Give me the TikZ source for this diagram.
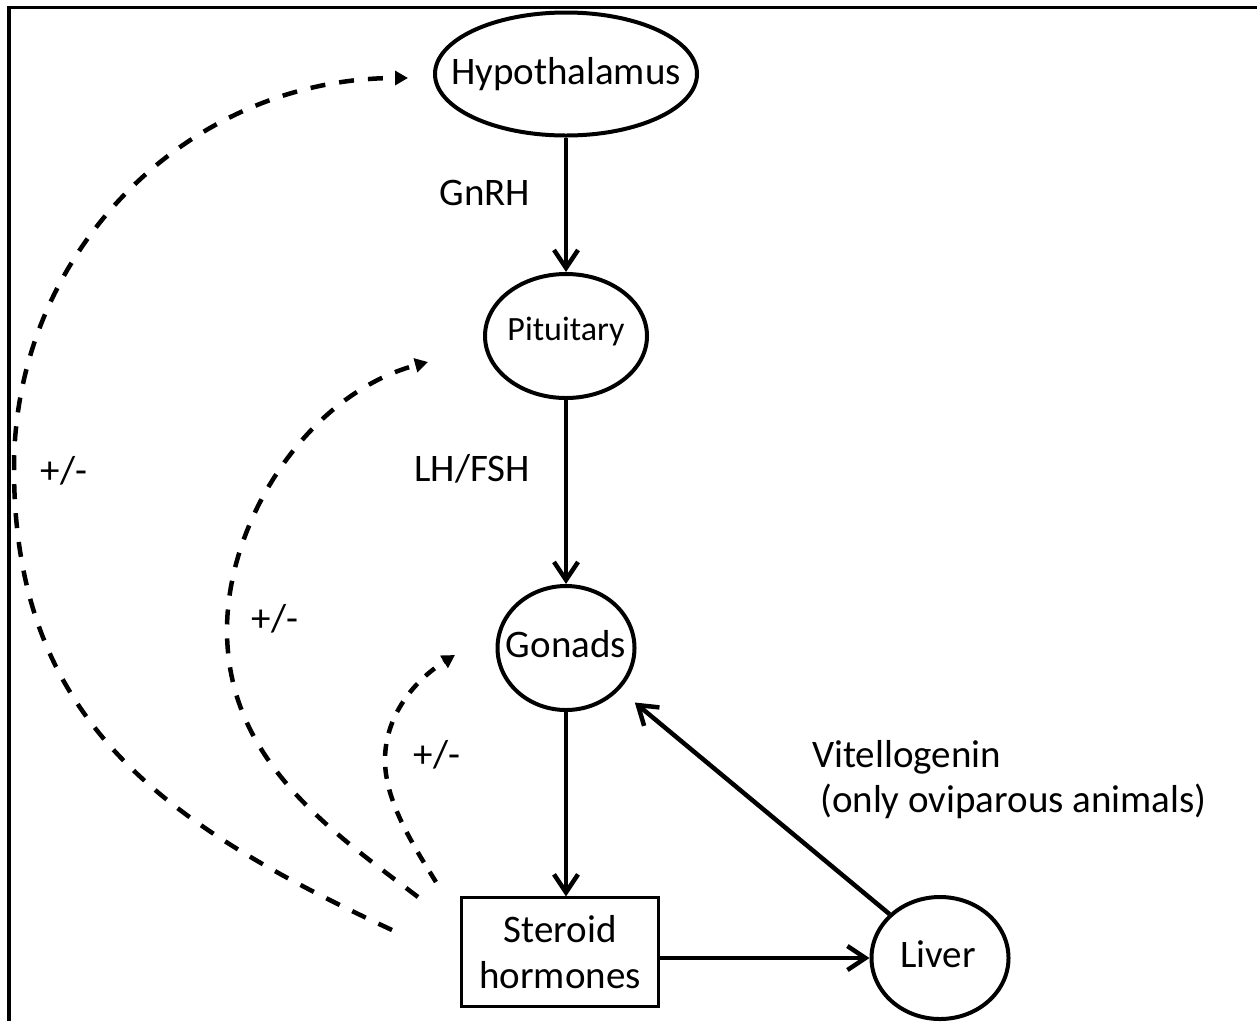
\documentclass[tikz,border=0pt]{standalone}
\usepackage{fontspec}
\setmainfont{Carlito}
\usetikzlibrary{shapes.geometric,arrows.meta}
\begin{document}
\begin{tikzpicture}[x=1pt,y=-1pt,
  every node/.style={font=\fontsize{39}{46}\selectfont, inner sep=0pt},
  organ/.style={ellipse, draw, line width=4pt, inner sep=0pt},
  stepbox/.style={rectangle, draw, line width=2.2pt, minimum width=197pt, minimum height=109pt, align=center},
  flow/.style={line width=4.5pt, -{Straight Barb[length=18pt,width=24pt,line width=4.5pt]}},
  fb/.style={line width=4.5pt, dash pattern=on 15pt off 14pt, -{Triangle[length=13pt,width=14pt]}},
  frame/.style={line width=3.5pt},
]
\useasboundingbox (0,0) rectangle (1257,1021);
\draw[frame] (9,1021) -- (9,7.5) -- (1257,7.5);

% organ shapes
\node[organ, minimum width=262pt, minimum height=123pt] (hyp) at (566,74) {};
\node[organ, minimum width=162pt, minimum height=124pt] (pit) at (566,336) {};
\node[organ, minimum width=137pt, minimum height=124pt] (gon) at (566,648) {};
\node[stepbox] (ster) at (560,952) {Steroid\\hormones};
\node[organ, minimum width=137pt, minimum height=122pt] (liv) at (940,958) {};

% organ names
\node[anchor=base] (hypT) at (566,84) {Hypothalamus};
\node[anchor=base, font=\fontsize{34}{40}\selectfont] (pitT) at (566,340) {Pituitary};
\node[anchor=base] (gonT) at (566,657) {Gonads};
\node[anchor=base] (livT) at (938,967) {Liver};

% labels
\node[anchor=base] (gnrh) at (485,205) {GnRH};
\node[anchor=base] (lhfsh) at (472,481) {LH/FSH};
\node[anchor=base] (pm1) at (64,483) {+/-};
\node[anchor=base] (pm2) at (275,631) {+/-};
\node[anchor=base] (pm3) at (437,767) {+/-};
\node[anchor=base west] (vit) at (812,767) {Vitellogenin};
\node[anchor=base west] (ovi) at (820,812) {(only oviparous animals)};

% main flow
\draw[flow] (hyp.south) -- (pit.north);
\draw[flow] (pit.south) -- (gon.north);
\draw[flow] (gon.south) -- (gon.south |- ster.north);
\draw[flow] (ster.east |- liv.west) -- (liv.west);
\draw[flow, shorten >=20pt] (liv.139) -- (gon.-38);

% feedback loops
\coordinate (f1s) at (392,930);
\coordinate (f1m) at (14,468);
\coordinate (f1e) at (408,78);
\draw[fb] (f1s) .. controls (162,823) and (14,720) .. (f1m) .. controls (14,250) and (190,78) .. (f1e);

\coordinate (f2s) at (418,897);
\coordinate (f2m) at (227,630);
\coordinate (f2e) at (428,362);
\draw[fb] (f2s) .. controls (330,830) and (227,760) .. (f2m) .. controls (227,520) and (308,394) .. (f2e);

\coordinate (f3s) at (436,882);
\coordinate (f3m) at (385,760);
\coordinate (f3e) at (455,655);
\draw[fb, dash pattern=on 12pt off 11pt] (f3s) .. controls (411,842) and (385,800) .. (f3m) .. controls (385,715) and (415,680) .. (f3e);
\end{tikzpicture}
\end{document}
